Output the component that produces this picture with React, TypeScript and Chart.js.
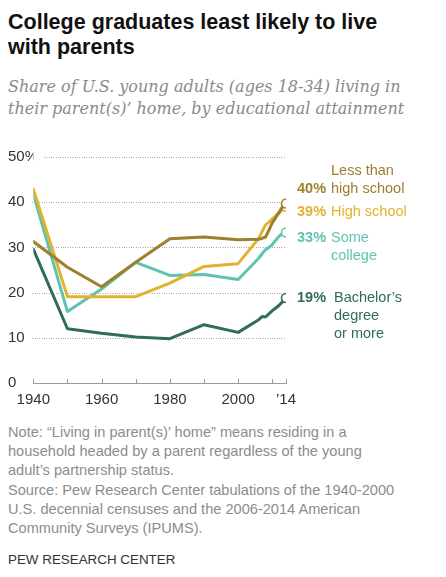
import { useEffect, useRef } from 'react';
import { Chart, registerables } from 'chart.js';

Chart.register(...registerables);

const years = [1940, 1950, 1960, 1970, 1980, 1990, 2000, 2006, 2007, 2008, 2009, 2010, 2011, 2012, 2013, 2014];
const lessThanHighSchool = [31.3, 25.6, 21.3, 26.7, 31.9, 32.3, 31.7, 31.8, 32, 32.3, 33.8, 35.5, 36.6, 37.8, 39, 39.7];
const highSchool = [42.9, 19.1, 19.1, 19.1, 22.1, 25.8, 26.4, 32, 33.5, 35, 35.6, 36.3, 37, 37.6, 38.5, 39];
const someCollege = [41.8, 15.8, 20.8, 26.7, 23.8, 24, 22.9, 27.6, 28.6, 29.5, 30, 30.6, 31.6, 32.5, 33, 33.3];
const bachelors = [29.6, 12, 11, 10.2, 9.8, 12.9, 11.2, 14, 14.7, 14.6, 15.3, 16, 16.6, 17.2, 18, 18.8];

const seriesNames = [['Less than', 'high school'], ['High school'], ['Some', 'college'], ['Bachelor’s', 'degree', 'or more']];
const xTickYears = [1940, 1950, 1960, 1970, 1980, 1990, 2000, 2010, 2014];
const yTicks = [0, 10, 20, 30, 40, 50];

const colors = ['#9d7f2c', '#e2b22d', '#5fc3b1', '#2f6d59'];
// label placement relative to the end point (px)
const pctDy = [-10.5, 9.5, 9.3, 3.8];
const nameDx = [45, 45, 45, 48];
const nameFirstLine = [-1, 0, 0, 0];

const FONT = '"Liberation Sans", Arial, sans-serif';
const yLabel = (v: number) => (v === 50 ? '50%' : String(v));

const endLabels = {
  id: 'endLabels',
  afterDatasetsDraw(chart: Chart) {
    const ctx = chart.ctx;
    ctx.save();
    chart.data.datasets.forEach((ds, i) => {
      const meta = chart.getDatasetMeta(i);
      const pt = meta.data[meta.data.length - 1];
      const vals = ds.data as { x: number; y: number }[];
      const last = vals[vals.length - 1].y;
      const base = pt.y + pctDy[i];
      ctx.fillStyle = colors[i];
      ctx.textBaseline = 'alphabetic';
      ctx.textAlign = 'left';
      ctx.font = `bold 14.5px ${FONT}`;
      ctx.fillText(`${Math.round(last)}%`, pt.x + 11, base);
      ctx.font = `14.5px ${FONT}`;
      seriesNames[i].forEach((line, j) => {
        ctx.fillText(line, pt.x + nameDx[i], base + (j + nameFirstLine[i]) * 18.3);
      });
    });
    ctx.restore();
  },
};

// dotted gridlines that start just after each y label, and tick marks pointing up from the axis
const axisDecor = {
  id: 'axisDecor',
  beforeDatasetsDraw(chart: Chart) {
    const ctx = chart.ctx;
    const ys = chart.scales.y;
    const { left, right } = chart.chartArea;
    ctx.save();
    ctx.font = `15px ${FONT}`;
    ctx.fillStyle = '#adadad';
    yTicks.forEach((v) => {
      if (v === 0) return;
      const y = Math.round(ys.getPixelForValue(v));
      const start = Math.max(left - 1, ys.left + ctx.measureText(yLabel(v)).width + 6);
      for (let x = start; x <= right; x += 2.35) ctx.fillRect(Math.round(x), y, 1, 1);
    });
    ctx.restore();
  },
  afterDraw(chart: Chart) {
    const ctx = chart.ctx;
    const xs = chart.scales.x;
    const bottom = chart.chartArea.bottom;
    ctx.save();
    ctx.strokeStyle = '#999';
    ctx.lineWidth = 1;
    xTickYears.forEach((v) => {
      const x = Math.round(xs.getPixelForValue(v)) + 0.5;
      ctx.beginPath();
      ctx.moveTo(x, bottom);
      ctx.lineTo(x, bottom - 4);
      ctx.stroke();
    });
    ctx.restore();
  },
};

function LineChart() {
  const canvasRef = useRef<HTMLCanvasElement>(null);

  useEffect(() => {
    if (!canvasRef.current) return;
    const series = [lessThanHighSchool, highSchool, someCollege, bachelors];
    const chart = new Chart(canvasRef.current, {
      type: 'line',
      data: {
        datasets: series.map((s, i) => ({
          label: seriesNames[i].join(' '),
          data: s.map((y, k) => ({ x: years[k], y })),
          borderColor: colors[i],
          borderWidth: 3,
          tension: 0,
          borderJoinStyle: 'round',
          borderCapStyle: 'round',
          pointRadius: (c: any) => (c.dataIndex === years.length - 1 ? 4.5 : 0),
          pointHoverRadius: 0,
          pointBackgroundColor: '#fff',
          pointBorderColor: colors[i],
          pointBorderWidth: 1.6,
        })),
      },
      options: {
        animation: false,
        responsive: false,
        layout: { padding: { left: 0, right: 152, top: 17, bottom: 0 } },
        plugins: { legend: { display: false }, tooltip: { enabled: false } },
        scales: {
          x: {
            type: 'linear',
            min: 1940,
            max: 2014,
            afterBuildTicks: (s: any) => { s.ticks = xTickYears.map((v) => ({ value: v })); },
            afterFit: (s: any) => { s.height = 27; },
            grid: { display: false },
            border: { display: true, color: '#999', width: 1 },
            ticks: {
              autoSkip: false,
              maxRotation: 0,
              padding: 0,
              color: '#333',
              font: { family: FONT, size: 15 },
              callback: (v: any) => (v === 2014 ? '’14' : v % 20 === 0 ? String(v) : ''),
            },
          },
          y: {
            min: 0,
            max: 50,
            afterBuildTicks: (s: any) => { s.ticks = yTicks.map((v) => ({ value: v })); },
            afterFit: (s: any) => { s.width = 25.3; },
            grid: { display: false },
            border: { display: false },
            ticks: {
              crossAlign: 'far',
              padding: 0,
              color: '#333',
              font: { family: FONT, size: 15 },
              callback: (v: any) => yLabel(v),
            },
          },
        },
      } as any,
      plugins: [endLabels, axisDecor],
    });
    return () => { chart.destroy(); };
  }, []);

  return <canvas ref={canvasRef} width={430} height={270} style={{ display: 'block', width: 430, height: 270 }} />;
}

export default function App() {
  return (
    <div style={{ position: 'relative', width: 430, height: 569, fontFamily: FONT }}>
      <div style={{ position: 'absolute', top: 2, left: 0, fontSize: 21.5, fontWeight: 'bold', lineHeight: '25px', color: '#111', whiteSpace: 'nowrap' }}>
        College graduates least likely to live<br />with parents
      </div>
      <div style={{ position: 'absolute', top: 67.5, left: 0, fontFamily: '"DejaVu Serif", serif', fontStyle: 'italic', fontSize: 16, lineHeight: '22.3px', color: '#8a8a8a', whiteSpace: 'nowrap' }}>
        Share of U.S. young adults (ages 18-34) living in<br />their parent(s)’ home, by educational attainment
      </div>
      <div style={{ position: 'absolute', top: 132, left: 0 }}>
        <LineChart />
      </div>
      <div style={{ position: 'absolute', top: 415, left: 0, fontSize: 14.6, lineHeight: '19.2px', color: '#8c8c8c', whiteSpace: 'nowrap' }}>
        Note: “Living in parent(s)’ home” means residing in a<br />
        household headed by a parent regardless of the young<br />
        adult’s partnership status.<br />
        Source: Pew Research Center tabulations of the 1940-2000<br />
        U.S. decennial censuses and the 2006-2014 American<br />
        Community Surveys (IPUMS).
      </div>
      <div style={{ position: 'absolute', top: 542, left: 0, fontSize: 13.4, lineHeight: '19.2px', color: '#333', whiteSpace: 'nowrap' }}>
        PEW RESEARCH CENTER
      </div>
    </div>
  );
}
